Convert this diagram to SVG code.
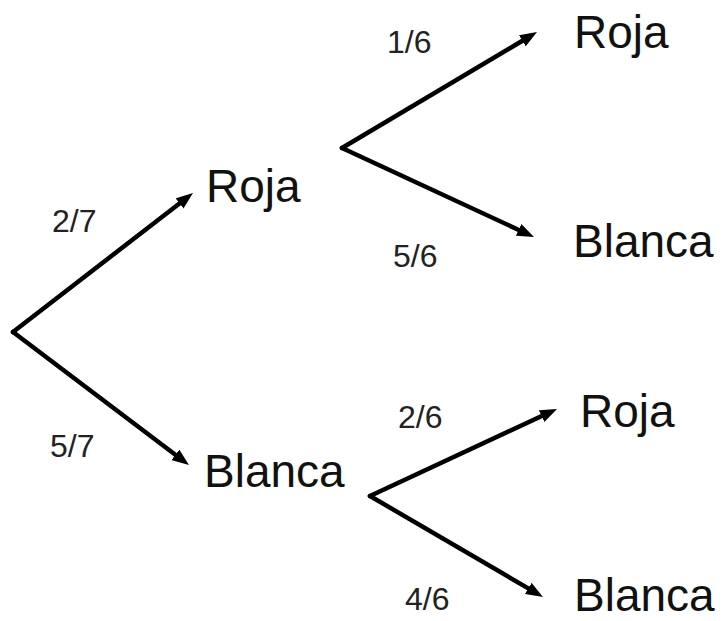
<svg xmlns="http://www.w3.org/2000/svg" width="723" height="621" viewBox="0 0 723 621">
<style>
.edge{fill:none;stroke:#000;stroke-width:4.5;stroke-linecap:round;marker-end:url(#ah)}
.node{font-family:"Liberation Sans",Arial,sans-serif;font-size:46px;fill:#111}
.prob{font-family:"Liberation Sans",Arial,sans-serif;font-size:32px;fill:#222}
</style>
<defs>
<marker id="ah" markerUnits="userSpaceOnUse" markerWidth="17" markerHeight="13" refX="2" refY="6.5" orient="auto">
<path d="M0,0 L17,6.5 L0,13 z" fill="#000"/>
</marker>
</defs>
<rect width="723" height="621" fill="#fff"/>
<g id="connectors">
<path class="edge" d="M13,332 L181.1,202.2"/>
<path class="edge" d="M13,332 L177,456"/>
<path class="edge" d="M342,148 L524.1,39.7"/>
<path class="edge" d="M342,148 L520.4,230.7"/>
<path class="edge" d="M370,496 L543.4,415.3"/>
<path class="edge" d="M370,496 L530,589.4"/>
</g>
<g id="labels">
<text class="prob" x="52" y="232">2/7</text>
<text class="prob" x="50" y="457">5/7</text>
<text class="prob" x="387" y="53">1/6</text>
<text class="prob" x="393" y="267">5/6</text>
<text class="prob" x="398" y="428">2/6</text>
<text class="prob" x="405" y="610">4/6</text>
</g>
<g id="n-roja1"><text class="node" x="206" y="202">Roja</text></g>
<g id="n-blanca1"><text class="node" x="204" y="487">Blanca</text></g>
<g id="n-roja2"><text class="node" x="574" y="48">Roja</text></g>
<g id="n-blanca2"><text class="node" x="573" y="257">Blanca</text></g>
<g id="n-roja3"><text class="node" x="580" y="427">Roja</text></g>
<g id="n-blanca3"><text class="node" x="574" y="611">Blanca</text></g>
</svg>
